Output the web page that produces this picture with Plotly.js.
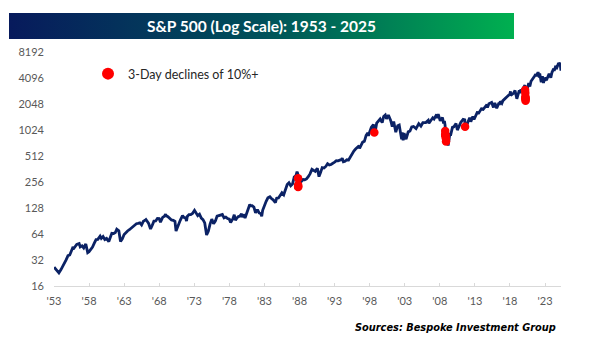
<!DOCTYPE html>
<html>
<head>
<meta charset="utf-8">
<script src="https://cdn.plot.ly/plotly-3.0.1.min.js"></script>
<style>
  html, body { margin: 0; padding: 0; background: #ffffff; }
  #chart { width: 600px; height: 354px; }
</style>
</head>
<body>
<div id="chart"></div>
<script>
// ---- Data (S&P 500 closes) ----
const dates = [
 "1953-01-05","1953-03-31","1953-06-30","1953-09-14","1953-12-31",
 "1954-03-31","1954-06-30","1954-09-30","1954-12-31",
 "1955-03-31","1955-06-30","1955-09-23","1955-09-26","1955-12-30",
 "1956-03-30","1956-08-02","1956-09-28","1956-12-31",
 "1957-03-29","1957-07-15","1957-10-22","1957-12-31",
 "1958-03-31","1958-06-30","1958-09-30","1958-12-31",
 "1959-03-31","1959-07-31","1959-09-30","1959-12-31",
 "1960-03-31","1960-06-30","1960-10-25","1960-12-30",
 "1961-03-30","1961-06-30","1961-09-29","1961-12-12",
 "1962-03-30","1962-06-26","1962-09-28","1962-12-31",
 "1963-03-29","1963-06-28","1963-09-30","1963-12-31",
 "1964-03-31","1964-06-30","1964-09-30","1964-12-31",
 "1965-03-31","1965-06-28","1965-09-30","1965-12-31",
 "1966-02-09","1966-06-30","1966-10-07","1966-12-30",
 "1967-03-31","1967-06-30","1967-09-29","1967-12-29",
 "1968-03-05","1968-06-28","1968-09-30","1968-11-29","1968-12-31",
 "1969-03-31","1969-06-30","1969-09-30","1969-12-31",
 "1970-03-31","1970-05-26","1970-09-30","1970-12-31",
 "1971-04-28","1971-06-30","1971-09-30","1971-11-23","1971-12-31",
 "1972-03-30","1972-06-30","1972-09-29","1973-01-11",
 "1973-03-30","1973-06-29","1973-09-28","1973-12-31",
 "1974-03-29","1974-06-28","1974-10-03","1974-12-31",
 "1975-03-31","1975-06-30","1975-09-30","1975-12-31",
 "1976-03-31","1976-06-30","1976-09-30","1976-12-31",
 "1977-03-31","1977-06-30","1977-09-30","1977-12-30",
 "1978-03-06","1978-06-30","1978-09-12","1978-11-14","1978-12-29",
 "1979-03-30","1979-06-29","1979-09-28","1979-11-07","1979-12-31",
 "1980-03-27","1980-06-30","1980-09-30","1980-11-28","1980-12-31",
 "1981-03-31","1981-06-30","1981-09-25","1981-12-31",
 "1982-03-31","1982-06-30","1982-08-12","1982-09-30","1982-12-31",
 "1983-03-31","1983-06-30","1983-10-10","1983-12-30",
 "1984-03-30","1984-07-24","1984-09-28","1984-12-31",
 "1985-03-29","1985-06-28","1985-09-30","1985-12-31",
 "1986-03-31","1986-06-30","1986-09-30","1986-12-31",
 "1987-03-31","1987-06-30","1987-08-25","1987-09-30","1987-10-16","1987-10-19","1987-10-20","1987-10-26","1987-12-04","1987-12-31",
 "1988-03-31","1988-06-30","1988-09-30","1988-12-30",
 "1989-03-31","1989-06-30","1989-10-09","1989-12-29",
 "1990-03-30","1990-07-16","1990-10-11","1990-12-31",
 "1991-03-28","1991-06-28","1991-09-30","1991-12-31",
 "1992-03-31","1992-06-30","1992-09-30","1992-12-31",
 "1993-03-31","1993-06-30","1993-09-30","1993-12-31",
 "1994-02-02","1994-04-04","1994-06-30","1994-09-30","1994-12-30",
 "1995-03-31","1995-06-30","1995-09-29","1995-12-29",
 "1996-03-29","1996-06-28","1996-07-23","1996-09-30","1996-12-31",
 "1997-03-31","1997-06-30","1997-09-30","1997-10-27","1997-12-31",
 "1998-03-31","1998-07-17","1998-08-31","1998-10-08","1998-12-31",
 "1999-03-31","1999-06-30","1999-10-15","1999-12-31",
 "2000-03-24","2000-05-26","2000-09-01","2000-12-29",
 "2001-03-22","2001-06-05","2001-09-21","2001-12-31",
 "2002-03-19","2002-07-23","2002-08-22","2002-10-09","2002-11-27",
 "2003-03-11","2003-06-30","2003-09-30","2003-12-31",
 "2004-03-31","2004-08-12","2004-12-31",
 "2005-04-20","2005-08-02","2005-12-30",
 "2006-05-05","2006-06-13","2006-12-29",
 "2007-03-05","2007-07-19","2007-08-15","2007-10-09",
 "2008-01-22","2008-05-19","2008-07-15","2008-08-28","2008-09-30","2008-10-07","2008-10-10","2008-10-22","2008-11-04","2008-11-20","2008-12-31",
 "2009-01-06","2009-03-09","2009-06-12","2009-07-10","2009-10-19","2009-12-31",
 "2010-04-23","2010-07-02","2010-09-30","2010-12-31",
 "2011-04-29","2011-07-22","2011-08-08","2011-10-03","2011-12-30",
 "2012-04-02","2012-06-01","2012-09-14","2012-11-15","2012-12-31",
 "2013-05-21","2013-06-24","2013-12-31",
 "2014-02-03","2014-09-18","2014-10-15","2014-12-31",
 "2015-05-21","2015-08-25","2015-11-03",
 "2016-02-11","2016-06-08","2016-06-27","2016-08-15","2016-11-04","2016-12-30",
 "2017-06-30","2017-12-29",
 "2018-01-26","2018-02-08","2018-06-29","2018-09-20","2018-12-24",
 "2019-04-30","2019-06-03","2019-07-26","2019-08-05","2019-12-31",
 "2020-02-19","2020-02-27","2020-03-09","2020-03-12","2020-03-23","2020-04-30","2020-06-08","2020-06-30","2020-09-02","2020-10-30","2020-12-31",
 "2021-03-31","2021-06-30","2021-09-02","2021-10-04","2021-12-31",
 "2022-01-03","2022-03-08","2022-03-29","2022-06-16","2022-08-16","2022-10-12","2022-12-01","2022-12-28",
 "2023-02-02","2023-03-13","2023-07-31","2023-10-27","2023-12-29",
 "2024-03-28","2024-04-19","2024-07-16","2024-08-05","2024-12-06","2024-12-31",
 "2025-02-19","2025-03-13","2025-04-08","2025-04-11"
];
const spx = [
 26.5,25.3,24.1,22.7,24.8,
 26.9,29.2,32.3,36.0,
 36.6,41.0,45.6,42.6,45.5,
 48.5,49.6,45.4,46.7,
 44.1,49.1,39.0,40.0,
 42.1,45.2,50.1,55.2,
 55.4,60.5,56.9,59.9,
 55.3,56.9,52.3,58.1,
 65.1,64.6,66.7,72.6,
 69.6,52.3,56.3,63.1,
 66.6,69.4,71.7,75.0,
 79.0,81.7,84.2,84.8,
 86.2,81.6,90.0,92.4,
 94.1,84.7,73.2,80.3,
 90.2,90.6,96.7,96.5,
 87.7,99.6,102.7,108.4,103.9,
 101.5,97.7,93.1,92.1,
 89.6,69.3,84.2,92.2,
 104.8,99.7,98.3,90.2,102.1,
 107.2,107.1,110.6,120.2,
 111.5,104.3,108.4,97.6,
 94.0,86.0,62.3,68.6,
 83.4,95.2,83.9,90.2,
 102.8,104.3,105.2,107.5,
 98.4,100.5,96.5,95.1,
 86.9,95.5,107.0,92.5,96.1,
 101.6,102.9,109.3,99.9,107.9,
 98.2,114.2,125.5,140.5,135.8,
 136.0,131.2,112.8,122.6,
 112.0,109.6,102.4,120.4,140.6,
 153.0,168.1,172.7,164.9,
 159.2,147.8,166.1,167.2,
 180.7,191.9,182.1,211.3,
 238.9,250.8,231.3,242.2,
 291.7,304.0,336.8,321.8,282.7,224.8,236.8,227.7,223.9,247.1,
 258.9,273.5,271.9,277.7,
 294.9,318.0,359.8,353.4,
 339.9,369.0,295.5,330.2,
 375.2,371.2,387.9,417.1,
 403.7,408.1,417.8,435.7,
 451.7,450.5,458.9,466.5,
 482.0,438.9,444.3,462.7,459.3,
 500.7,544.8,584.4,615.9,
 645.5,670.6,626.9,687.3,740.7,
 757.1,885.1,947.3,877.0,970.4,
 1101.8,1186.8,957.3,959.4,1229.2,
 1286.4,1372.7,1247.4,1469.3,
 1527.5,1378.0,1520.8,1320.3,
 1117.6,1283.6,965.8,1148.1,
 1170.3,797.7,962.7,776.8,938.9,
 800.7,974.5,996.0,1111.9,
 1126.2,1063.2,1211.9,
 1137.5,1245.0,1248.3,
 1325.8,1223.7,1418.3,
 1374.1,1553.1,1406.7,1565.2,
 1310.5,1426.6,1214.9,1300.7,1166.4,996.2,899.2,896.8,1005.8,752.4,903.3,
 934.7,676.5,946.2,879.1,1097.9,1115.1,
 1217.3,1022.6,1141.2,1257.6,
 1363.6,1345.0,1119.5,1099.2,1257.6,
 1419.0,1278.0,1465.8,1353.3,1426.2,
 1669.2,1573.1,1848.4,
 1741.9,2011.4,1862.5,2058.9,
 2130.8,1867.6,2109.8,
 1829.1,2119.1,2000.5,2190.2,2085.2,2238.8,
 2423.4,2673.6,
 2872.9,2581.0,2718.4,2930.8,2351.1,
 2945.8,2744.5,3025.9,2844.7,3230.8,
 3386.2,2978.8,2746.6,2480.6,2237.4,2912.4,3232.4,3100.3,3580.8,3270.0,3756.1,
 3972.9,4297.5,4537.0,4300.5,4766.2,
 4796.6,4170.7,4631.6,3666.8,4305.2,3577.0,4076.6,3783.2,
 4179.8,3855.8,4589.0,4117.4,4769.8,
 5254.4,4967.2,5667.2,5186.3,6090.3,5881.6,
 6144.2,5521.5,4982.8,5363.4
];

// 3-day declines of 10% or more
const declineDates = [
 "1987-10-16","1987-10-19","1987-10-20","1987-10-26",
 "1998-08-31",
 "2008-10-07","2008-10-09","2008-10-10","2008-10-22","2008-10-27","2008-11-19","2008-11-20",
 "2011-08-08",
 "2020-02-27","2020-03-09","2020-03-12","2020-03-16","2020-03-18","2020-03-20","2020-03-23"
];
const declineValues = [
 282.7,224.8,236.8,227.7,
 957.3,
 996.2,909.9,899.2,896.8,848.9,806.6,752.4,
 1119.5,
 2978.8,2746.6,2480.6,2386.1,2398.1,2304.9,2237.4
];

const yTickVals = [16,32,64,128,256,512,1024,2048,4096,8192];
const yTickText = ["16","32","64","128","256","512","1024","2048","4096","8192"];
const xTickVals = ["1953-01-01","1958-01-01","1963-01-01","1968-01-01","1973-01-01","1978-01-01","1983-01-01","1988-01-01","1993-01-01","1998-01-01","2003-01-01","2008-01-01","2013-01-01","2018-01-01","2023-01-01"];
const xTickText = ["'53","'58","'63","'68","'73","'78","'83","'88","'93","'98","'03","'08","'13","'18","'23"];

const titleText = "S&P 500 (Log Scale): 1953 - 2025";
const legendLabel = "3-Day declines of 10%+";
const sourceText = "Sources: Bespoke Investment Group";

// ---- Banner gradient image ----
const bannerSvg = '<svg xmlns="http://www.w3.org/2000/svg" width="505" height="26" preserveAspectRatio="none">' +
  '<defs><linearGradient id="g" x1="0" y1="0" x2="1" y2="0">' +
  '<stop offset="0" stop-color="#071a5c"/><stop offset="0.5" stop-color="#00505a"/><stop offset="1" stop-color="#00b050"/>' +
  '</linearGradient></defs><rect x="0" y="0" width="505" height="26" fill="url(#g)"/></svg>';
const bannerSrc = 'data:image/svg+xml;base64,' + btoa(bannerSvg);

const W = 600, H = 354;
const L = 54, R = 561, T = 52, B = 286;
const px = v => (v - L) / (R - L);
const py = v => (B - v) / (B - T);

const traces = [
  {
    x: dates, y: spx, type: 'scatter', mode: 'lines',
    line: { color: '#0b2265', width: 2.8 },
    showlegend: false, hoverinfo: 'x+y'
  },
  {
    x: declineDates, y: declineValues, type: 'scatter', mode: 'markers',
    name: legendLabel,
    marker: { color: '#ff0000', size: 8.5, line: { width: 0 } },
    showlegend: true
  }
];

const layout = {
  width: W, height: H,
  margin: { l: L, r: W - R, t: T, b: H - B, pad: 0 },
  paper_bgcolor: '#ffffff', plot_bgcolor: 'rgba(0,0,0,0)',
  font: { family: 'Lato, "Open Sans", sans-serif', color: '#595959', size: 11 },
  title: {
    text: titleText,
    font: { family: 'Lato, sans-serif', size: 15.5, color: '#ffffff', weight: 'bold' },
    xref: 'container', yref: 'container',
    x: 261.5 / W, xanchor: 'center',
    y: 1 - 26.5 / H, yanchor: 'middle'
  },
  images: [{
    source: bannerSrc, xref: 'paper', yref: 'paper',
    x: px(9), y: py(13), sizex: px(514) - px(9), sizey: py(13) - py(39),
    xanchor: 'left', yanchor: 'top', sizing: 'stretch', layer: 'below'
  }],
  xaxis: {
    type: 'date',
    range: ['1953-01-01', '2025-04-10'],
    tickmode: 'array', tickvals: xTickVals, ticktext: xTickText,
    ticks: 'inside', ticklen: 3, tickcolor: '#d9d9d9', tickwidth: 1,
    showline: true, linecolor: '#d9d9d9', linewidth: 1,
    showgrid: false, zeroline: false,
    tickfont: { size: 11, color: '#595959' },
    ticklabelstandoff: 5,
    fixedrange: true
  },
  yaxis: {
    type: 'log',
    range: [Math.log10(16), Math.log10(8192)],
    tickmode: 'array', tickvals: yTickVals, ticktext: yTickText,
    ticks: '', showline: false, showgrid: false, zeroline: false,
    tickfont: { size: 11, color: '#595959' },
    ticklabelstandoff: 9,
    fixedrange: true
  },
  legend: {
    x: px(88), xanchor: 'left',
    y: py(59), yanchor: 'top',
    bgcolor: 'rgba(0,0,0,0)', borderwidth: 0,
    itemsizing: 'constant',
    font: { family: 'Lato, sans-serif', size: 12.5, color: '#262626' }
  },
  annotations: [{
    text: '<b><i>' + sourceText + '</i></b>',
    xref: 'paper', yref: 'paper',
    x: px(558), xanchor: 'right',
    y: py(327), yanchor: 'middle',
    showarrow: false,
    font: { family: '"DejaVu Sans", sans-serif', size: 9.8, color: '#000000' }
  }],
  showlegend: true
};

Plotly.newPlot('chart', traces, layout, { displayModeBar: false, staticPlot: true });
</script>
</body>
</html>
